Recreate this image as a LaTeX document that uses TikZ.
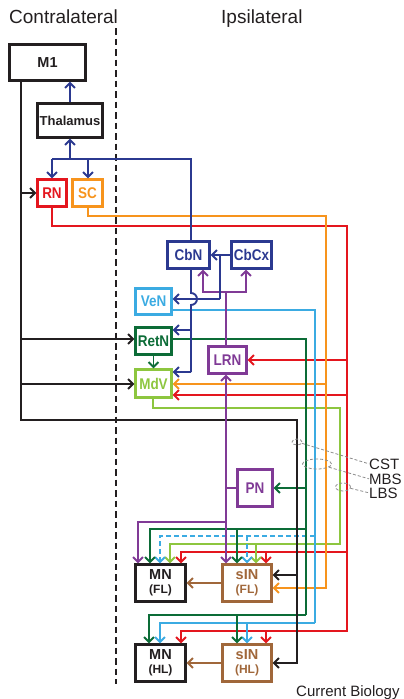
\documentclass[tikz,border=0pt]{standalone}
\usepackage{fontspec}
\setmainfont{Liberation Sans}
\newfontfamily\cnd[FakeStretch=0.87]{Liberation Sans}
\usetikzlibrary{arrows.meta,shapes.geometric}
\definecolor{cB}{RGB}{43,57,144}
\definecolor{cR}{RGB}{228,22,30}
\definecolor{cO}{RGB}{247,148,29}
\definecolor{cLB}{RGB}{59,171,226}
\definecolor{cG}{RGB}{12,108,55}
\definecolor{cLG}{RGB}{141,198,63}
\definecolor{cP}{RGB}{128,58,150}
\definecolor{cBr}{RGB}{160,103,58}
\definecolor{cK}{RGB}{35,31,32}
\definecolor{cGy}{RGB}{140,140,140}
\begin{document}
\begin{tikzpicture}[x=1pt,y=-1pt,
  box/.style={draw, line width=2.2pt, inner sep=0pt, align=center},
  lab/.style={font=\cnd\bfseries\fontsize{15.5}{15.5}\selectfont},
  ln/.style={line width=1.9pt},
  arr/.style={ln, -{Straight Barb[length=5pt,width=10pt]}},
  dsh/.style={dash pattern=on 5pt off 3pt},
  gry/.style={draw=cGy, line width=0.8pt, dash pattern=on 3pt off 2pt},
  gell/.style={ellipse, gry, inner sep=0pt},
  txt/.style={anchor=base west, inner sep=0pt, text=cK},
]
\useasboundingbox (0,0) rectangle (404,699);

% headings
\node[txt, font=\fontsize{19}{20}\selectfont] (contra) at (9,23) {Contralateral};
\node[txt, font=\fontsize{19}{20}\selectfont] (ipsi) at (221,23) {Ipsilateral};
\node[txt, font=\fontsize{15}{15}\selectfont] (cb) at (296,696) {Current Biology};

% midline
\coordinate (mTop) at (116,28);
\coordinate (mBot) at (116,684);
\draw[cK, line width=2.2pt, dash pattern=on 6.5pt off 4pt] (mTop) -- (mBot);

% boxes
\node[box, draw=cK, text=cK, minimum width=76pt, minimum height=36pt,
  font=\bfseries\fontsize{14.5}{15}\selectfont] (M1) at (47.5,62.5) {M1};
\node[box, draw=cK, text=cK, minimum width=65pt, minimum height=34pt,
  font=\bfseries\fontsize{13}{13}\selectfont] (Thal) at (70,120.5) {Thalamus};
\node[box, lab, draw=cR, text=cR, minimum width=29pt, minimum height=27pt] (RN) at (52,193) {RN};
\node[box, lab, draw=cO, text=cO, minimum width=30pt, minimum height=27pt] (SC) at (87.5,193) {SC};
\node[box, lab, draw=cB, text=cB, minimum width=42pt, minimum height=27pt] (CbN) at (188.5,255) {CbN};
\node[box, lab, draw=cB, text=cB, minimum width=40pt, minimum height=27pt] (CbCx) at (251.5,255) {CbCx};
\node[box, lab, draw=cLB, text=cLB, minimum width=36pt, minimum height=26pt] (VeN) at (153.5,301.5) {VeN};
\node[box, lab, draw=cG, text=cG, minimum width=36pt, minimum height=27pt] (RetN) at (153.5,341) {RetN};
\node[box, lab, draw=cLG, text=cLG, minimum width=36pt, minimum height=28pt] (MdV) at (153.5,383.5) {MdV};
\node[box, lab, draw=cP, text=cP, minimum width=38pt, minimum height=27pt] (LRN) at (227.5,360) {LRN};
\node[box, lab, draw=cP, text=cP, minimum width=35pt, minimum height=37pt] (PN) at (255,488) {PN};
\node[box, draw=cK, text=cK, minimum width=50pt, minimum height=37pt, font=\bfseries\fontsize{14.5}{15}\selectfont]
  (MNFL) at (160.5,583) {MN\\[-1pt]{\fontsize{12}{12}\selectfont (FL)}};
\node[box, draw=cBr, text=cBr, minimum width=49pt, minimum height=37pt, font=\bfseries\fontsize{14.5}{15}\selectfont]
  (sINFL) at (247,583) {sIN\\[-1pt]{\fontsize{12}{12}\selectfont (FL)}};
\node[box, draw=cK, text=cK, minimum width=50pt, minimum height=37pt, font=\bfseries\fontsize{14.5}{15}\selectfont]
  (MNHL) at (160.5,663) {MN\\[-1pt]{\fontsize{12}{12}\selectfont (HL)}};
\node[box, draw=cBr, text=cBr, minimum width=49pt, minimum height=37pt, font=\bfseries\fontsize{14.5}{15}\selectfont]
  (sINHL) at (247,663) {sIN\\[-1pt]{\fontsize{12}{12}\selectfont (HL)}};

% tract labels
\node[txt, font=\fontsize{15}{15}\selectfont] (CST) at (369,469) {CST};
\node[txt, font=\fontsize{15}{15}\selectfont] (MBS) at (369,484) {MBS};
\node[txt, font=\fontsize{15}{15}\selectfont] (LBS) at (369,498) {LBS};

% coordinates
\coordinate (bT) at (70,159);
\coordinate (bR) at (52,159);
\coordinate (bS) at (88,159);
\coordinate (bC) at (191,159);
\coordinate (bX) at (220,255);
\coordinate (bY) at (220,299);
\coordinate (bH1) at (191,293);
\coordinate (bRet) at (191,330);
\coordinate (bMd) at (191,372);
\coordinate (pJ) at (226,292);
\coordinate (pL) at (203,292);
\coordinate (pR) at (246,292);
\coordinate (pB) at (226,488);
\coordinate (pM) at (226,522);
\coordinate (pM2) at (138,522);
\coordinate (gS) at (306,339);
\coordinate (gP) at (306,488);
\coordinate (gF) at (306,529);
\coordinate (gF1) at (150,529);
\coordinate (gF2) at (237,529);
\coordinate (gE) at (306,615);
\coordinate (gH1) at (149,615);
\coordinate (gH2) at (237,615);
\coordinate (lS) at (315,310);
\coordinate (lF) at (315,536);
\coordinate (lF1) at (160,536);
\coordinate (lF2) at (247,536);
\coordinate (lE) at (315,623);
\coordinate (lH1) at (160,623);
\coordinate (lH2) at (247,623);
\coordinate (oA) at (88,216);
\coordinate (oB) at (326,216);
\coordinate (oM) at (326,384);
\coordinate (oC) at (326,588);
\coordinate (rA) at (52,226);
\coordinate (rB) at (347,226);
\coordinate (rL) at (347,360);
\coordinate (rM) at (347,395);
\coordinate (rF) at (347,552);
\coordinate (rF1) at (181,552);
\coordinate (rF2) at (266,552);
\coordinate (rC) at (347,631);
\coordinate (rH1) at (181,631);
\coordinate (rH2) at (266,631);
\coordinate (v0) at (153,408);
\coordinate (v1) at (340,408);
\coordinate (v2) at (340,544);
\coordinate (v3) at (170,544);
\coordinate (v4) at (256,544);
\coordinate (k1) at (21,420);
\coordinate (k2) at (297,420);
\coordinate (k3) at (297,663);
\coordinate (kR) at (21,193);
\coordinate (kT) at (21,339);
\coordinate (kM) at (21,384);
\coordinate (kF) at (297,575);

% red
\draw[arr,cR] (RN.south -| rA) -- (rA) -- (rB) -- (rC) -| (MNHL.north -| rH1);
\draw[arr,cR] (rH2) -- (sINHL.north -| rH2);
\draw[arr,cR] (rL) -- (LRN.east |- rL);
\draw[arr,cR] (rM) -- (MdV.east |- rM);
\draw[arr,cR] (rF) -| (MNFL.north -| rF1);
\draw[arr,cR] (rF2) -- (sINFL.north -| rF2);

% light green
\draw[arr,cLG] (MdV.south -| v0) -- (v0) -- (v1) -- (v2) -| (MNFL.north -| v3);
\draw[arr,cLG] (v4) -- (sINFL.north -| v4);

% orange
\draw[arr,cO] (SC.south -| oA) -- (oA) -- (oB) -- (oC) -- (sINFL.east |- oC);
\draw[arr,cO] (oM) -- (MdV.east |- oM);

% light blue
\draw[ln,cLB] (VeN.east |- lS) -- (lS) -- (lE);
\draw[arr,cLB,dsh] (lF) -| (MNFL.north -| lF1);
\draw[arr,cLB,dsh] (lF2) -- (sINFL.north -| lF2);
\draw[arr,cLB] (lE) -| (MNHL.north -| lH1);
\draw[arr,cLB] (lH2) -- (sINHL.north -| lH2);

% dark green
\draw[arr,cG] (RetN.south) -- (MdV.north);
\draw[ln,cG] (RetN.east |- gS) -- (gS) -- (gE);
\draw[arr,cG] (gP) -- (PN.east |- gP);
\draw[arr,cG] (gF) -| (MNFL.north -| gF1);
\draw[arr,cG] (gF2) -- (sINFL.north -| gF2);
\draw[arr,cG] (gE) -| (MNHL.north -| gH1);
\draw[arr,cG] (gH2) -- (sINHL.north -| gH2);

% black
\draw[arr,cK] (M1.south -| k1) -- (k1) -- (k2) -- (k3) -- (sINHL.east |- k3);
\draw[arr,cK] (kR) -- (RN.west |- kR);
\draw[arr,cK] (kT) -- (RetN.west |- kT);
\draw[arr,cK] (kM) -- (MdV.west |- kM);
\draw[arr,cK] (kF) -- (sINFL.east |- kF);

% brown
\draw[arr,cBr] (sINFL.west) -- (MNFL.east);
\draw[arr,cBr] (sINHL.west) -- (MNHL.east);

% purple
\draw[ln,cP] (LRN.north -| pJ) -- (pJ);
\draw[arr,cP] (pJ) -| (CbN.south -| pL);
\draw[arr,cP] (pJ) -| (CbCx.south -| pR);
\draw[ln,cP] (PN.west |- pB) -- (pB);
\draw[arr,cP] (pB) -- (LRN.south -| pB);
\draw[arr,cP] (pB) -- (sINFL.north -| pB);
\draw[arr,cP] (pM) -| (MNFL.north -| pM2);

% blue
\draw[arr,cB] (Thal.north) -- (Thal.north |- M1.south);
\draw[arr,cB] (bT) -- (Thal.south);
\draw[ln,cB] (CbN.north -| bC) -- (bC) -- (bR);
\draw[arr,cB] (bR) -- (RN.north -| bR);
\draw[arr,cB] (bS) -- (SC.north -| bS);
\draw[arr,cB] (CbCx.west) -- (CbN.east);
\draw[ln,cB] (bX) -- (bY);
\draw[arr,cB] (bY) -- (VeN.east |- bY);
\draw[ln,cB] (CbN.south -| bC) -- (bH1) arc[start angle=90, end angle=-90, radius=6pt] -- (bMd);
\draw[arr,cB] (bRet) -- (RetN.east |- bRet);
\draw[arr,cB] (bMd) -- (MdV.east |- bMd);

% tract ellipses and pointers (on top)
\node[gell, minimum width=10pt, minimum height=6pt] (eC) at (297,442) {};
\node[gell, minimum width=29pt, minimum height=10pt] (eM) at (317,464) {};
\node[gell, minimum width=15pt, minimum height=8pt] (eL) at (343,487) {};
\draw[gry] (eC.-15) -- (CST.west);
\draw[gry] (eM.-15) -- (MBS.west);
\draw[gry] (eL.-10) -- (LBS.west);
\end{tikzpicture}
\end{document}
